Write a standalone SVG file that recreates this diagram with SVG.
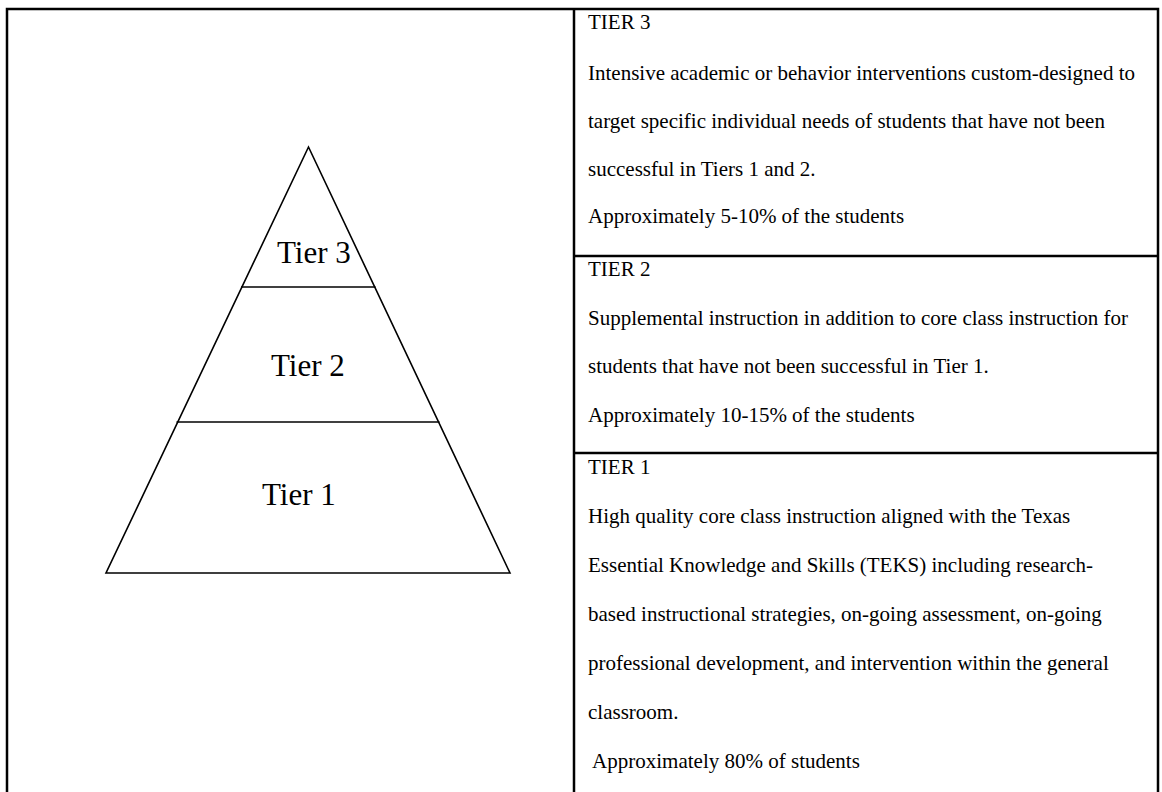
<svg xmlns="http://www.w3.org/2000/svg" width="1162" height="792" viewBox="0 0 1162 792">
<style>
  .frame { fill: none; stroke: #000; stroke-width: 2.5; }
  .edge { fill: none; stroke: #000; stroke-width: 1.6; }
  .tier { font-family: "Liberation Serif", "Times New Roman", serif; font-size: 31px; fill: #000; }
  .body { font-family: "Liberation Serif", "Times New Roman", serif; font-size: 21px; fill: #000; }
</style>
<rect width="1162" height="792" fill="#fff"/>
<g id="table">
  <path class="frame" d="M7,800 V9 H1158 V800 M574,9 V800 M574,256 H1158 M574,453 H1158"/>
</g>
<g id="pyramid">
  <polygon class="edge" points="308.5,147 106,573 510,573"/>
  <g id="tier3-shape">
    <text class="tier" x="277" y="263">Tier 3</text>
  </g>
  <g id="tier2-shape">
    <line class="edge" x1="241" y1="287" x2="375.5" y2="287"/>
    <text class="tier" x="271" y="376">Tier 2</text>
  </g>
  <g id="tier1-shape">
    <line class="edge" x1="176.5" y1="422" x2="439.5" y2="422"/>
    <text class="tier" x="262" y="505">Tier 1</text>
  </g>
</g>
<g id="connectors"></g>
<g id="tier3-desc">
  <text class="body" x="588" y="29">TIER 3</text>
  <text class="body" x="588" y="80">Intensive academic or behavior interventions custom-designed to</text>
  <text class="body" x="588" y="128">target specific individual needs of students that have not been</text>
  <text class="body" x="588" y="176">successful in Tiers 1 and 2.</text>
  <text class="body" x="588" y="223">Approximately 5-10% of the students</text>
</g>
<g id="tier2-desc">
  <text class="body" x="588" y="276">TIER 2</text>
  <text class="body" x="588" y="325">Supplemental instruction in addition to core class instruction for</text>
  <text class="body" x="588" y="373">students that have not been successful in Tier 1.</text>
  <text class="body" x="588" y="422">Approximately 10-15% of the students</text>
</g>
<g id="tier1-desc">
  <text class="body" x="588" y="474">TIER 1</text>
  <text class="body" x="588" y="523">High quality core class instruction aligned with the Texas</text>
  <text class="body" x="588" y="572">Essential Knowledge and Skills (TEKS) including research-</text>
  <text class="body" x="588" y="621">based instructional strategies, on-going assessment, on-going</text>
  <text class="body" x="588" y="670">professional development, and intervention within the general</text>
  <text class="body" x="588" y="719">classroom.</text>
  <text class="body" x="588" y="768" xml:space="preserve"> Approximately 80% of students</text>
</g>
</svg>
